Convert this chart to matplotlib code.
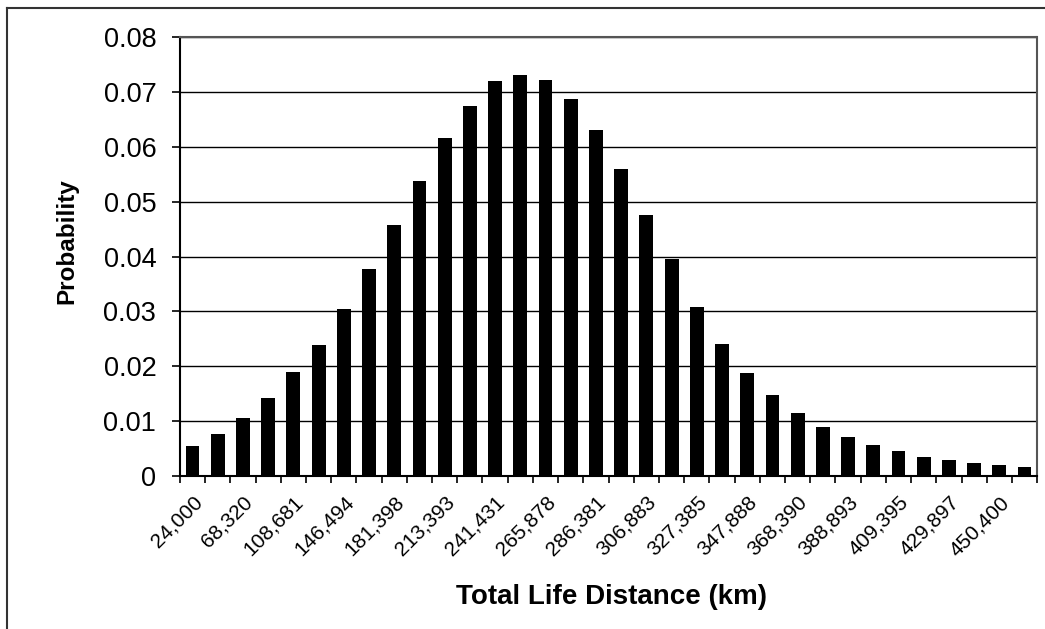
import matplotlib.pyplot as plt
from matplotlib.lines import Line2D
from matplotlib.transforms import ScaledTranslation
import numpy as np

plt.rcParams['font.family'] = ['Liberation Sans', 'DejaVu Sans']

# probability of each distance bin (34 bins, every other one labelled)
probability = [0.0054, 0.0076, 0.0106, 0.0142, 0.0190, 0.0239, 0.0304, 0.0377,
               0.0458, 0.0538, 0.0616, 0.0675, 0.0719, 0.0731, 0.0722, 0.0687,
               0.0631, 0.0559, 0.0475, 0.0396, 0.0308, 0.0240, 0.0187, 0.0147,
               0.0115, 0.0090, 0.0071, 0.0056, 0.0045, 0.0035, 0.0029, 0.0023,
               0.0020, 0.0016]
bin_labels = ["24,000", "68,320", "108,681", "146,494", "181,398", "213,393",
              "241,431", "265,878", "286,381", "306,883", "327,385", "347,888",
              "368,390", "388,893", "409,395", "429,897", "450,400"]
yticks = [0, 0.01, 0.02, 0.03, 0.04, 0.05, 0.06, 0.07, 0.08]

fig = plt.figure(figsize=(10.45, 6.29), dpi=100)
ax = fig.add_axes([0.1722, 0.2432, 0.8203, 0.6980])

x = np.arange(len(probability))
ax.bar(x, probability, width=0.55, color='black', zorder=3)

ax.set_xlim(-0.5, len(probability) - 0.5)
ax.set_ylim(0, 0.08)
ax.set_yticks(yticks)
ax.set_yticklabels(["0" if v == 0 else f"{v:.2f}" for v in yticks], fontsize=19.5)
ax.yaxis.grid(True, color='black', linewidth=1.0, zorder=0)

# category boundary ticks, labels on every second bin
ax.set_xticks(np.arange(-0.5, len(probability)), minor=False)
ax.set_xticklabels([])
ax.set_xticks(x[::2], minor=True)
ax.set_xticklabels(bin_labels, minor=True, rotation=45, ha='right',
                   va='top', rotation_mode='anchor', fontsize=15)
shift = ScaledTranslation(7 / 100, 0, fig.dpi_scale_trans)
for lbl in ax.get_xticklabels(minor=True):
    lbl.set_transform(lbl.get_transform() + shift)
ax.tick_params(axis='x', which='major', direction='out', length=5, width=1.2)
ax.tick_params(axis='x', which='minor', length=0, pad=12)
ax.tick_params(axis='y', direction='out', length=6, width=1.2, pad=11)

ax.set_ylabel("Probability", fontsize=17.5, fontweight='bold')
ax.yaxis.set_label_coords(-0.118, 0.535)
ax.set_xlabel("Total Life Distance (km)", fontsize=20, fontweight='bold')
ax.xaxis.set_label_coords(0.503, -0.246)

for side in ('top', 'right'):
    ax.spines[side].set_linestyle((0, (1, 1)))
    ax.spines[side].set_color('#555555')
    ax.spines[side].set_linewidth(1.5)
ax.spines['left'].set_linewidth(1.5)
ax.spines['bottom'].set_linewidth(1.5)

# outer chart frame (left and top edges)
fig.add_artist(Line2D([7 / 1045, 7 / 1045], [0, 1 - 8 / 629], color='#333333', lw=1.5))
fig.add_artist(Line2D([7 / 1045, 1], [1 - 8 / 629, 1 - 8 / 629], color='#333333', lw=1.5))

fig.savefig("out.png", dpi=100)
